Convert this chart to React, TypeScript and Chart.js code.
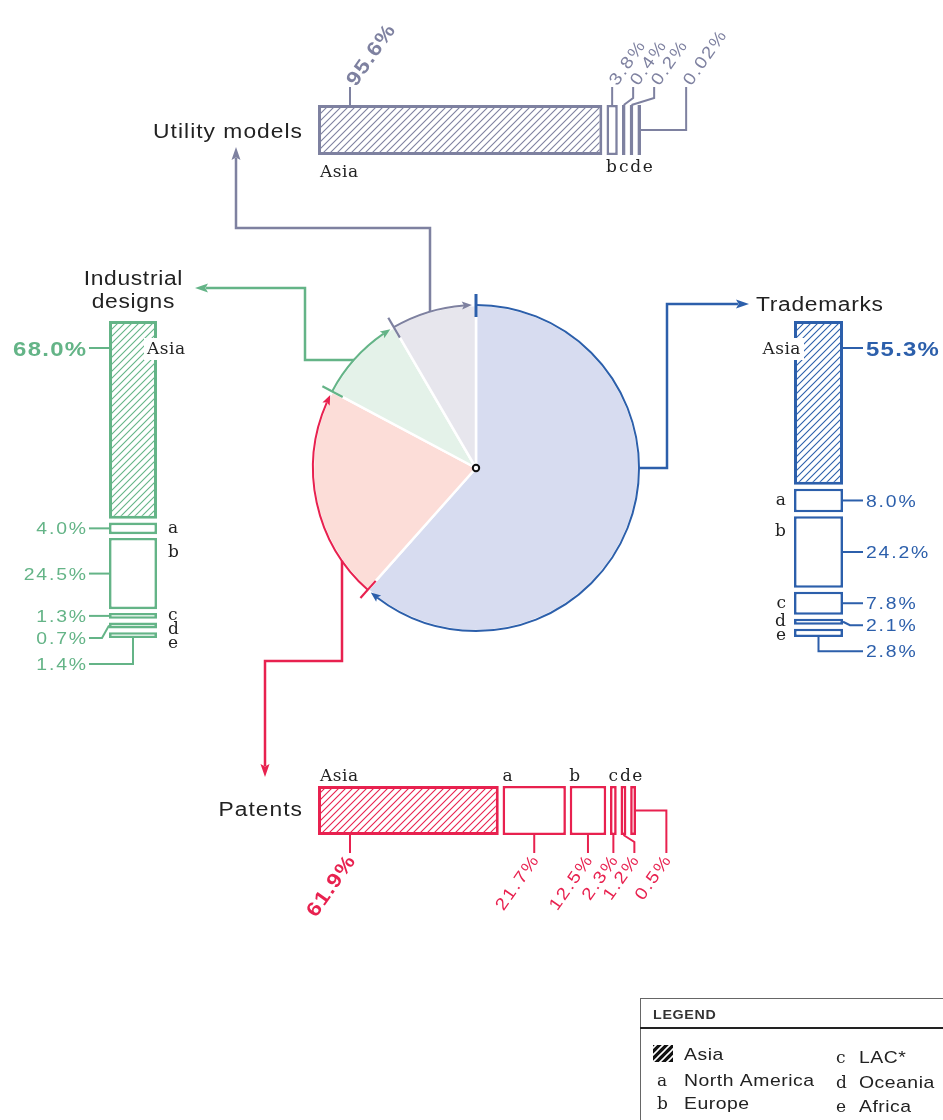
import React, { useEffect, useRef } from 'react';
import { Chart, registerables } from 'chart.js';

Chart.register(...registerables);

const W = 943;
const H = 1120;

// ---------- data ----------
const PIE_LABELS = ['Trademarks', 'Patents', 'Industrial designs', 'Utility models'];
const PIE_SHARES = [61.5, 21.2, 8.8, 8.4];
const REGION_CODES = ['Asia', 'a', 'b', 'c', 'd', 'e'];
const REGION_NAMES = ['Asia', 'North America', 'Europe', 'LAC*', 'Oceania', 'Africa'];
const UTILITY_SHARES: (number | null)[] = [95.6, null, 3.8, 0.4, 0.2, 0.02];
const DESIGN_SHARES: (number | null)[] = [68.0, 4.0, 24.5, 1.3, 0.7, 1.4];
const TRADEMARK_SHARES: (number | null)[] = [55.3, 8.0, 24.2, 7.8, 2.1, 2.8];
const PATENT_SHARES: (number | null)[] = [61.9, 21.7, 12.5, 2.3, 1.2, 0.5];

// ---------- style ----------
const BLUE = '#2c5fab';
const RED = '#e8214f';
const GREEN = '#64b487';
const GRAY = '#7e81a0';
const PIE_FILLS = ['#d7dcf0', '#fcddd8', '#e4f2e9', '#e7e6ed'];
const PIE_LINES = [BLUE, RED, GREEN, GRAY];
const SANS = '"Liberation Sans", Arial, sans-serif';
const SERIF = '"DejaVu Serif", serif';
const INK = '#222';
const ANGLE = (55 * Math.PI) / 180;
const SX = 1.14; // horizontal stretch for the wide grotesque look

const fmt = (v: number) => (v < 0.1 ? v.toFixed(2) : v.toFixed(1)) + '%';

// draw stretched, letter-spaced sans text
function sText(
  ctx: CanvasRenderingContext2D,
  txt: string,
  x: number,
  y: number,
  align: CanvasTextAlign,
  ls: number,
  sx = SX
) {
  ctx.save();
  (ctx as any).letterSpacing = ls + 'px';
  const comp = align === 'right' ? ls * sx : align === 'center' ? (ls * sx) / 2 : 0;
  ctx.translate(x + comp, y);
  ctx.scale(sx, 1);
  ctx.textAlign = align;
  ctx.fillText(txt, 0, 0);
  ctx.restore();
}

function hatch(color: string, bg = '#ffffff', lw = 1.1) {
  const c = document.createElement('canvas');
  c.width = 7;
  c.height = 7;
  const g = c.getContext('2d')!;
  g.fillStyle = bg;
  g.fillRect(0, 0, 7, 7);
  g.strokeStyle = color;
  g.lineWidth = lw;
  g.beginPath();
  g.moveTo(-1, 8);
  g.lineTo(8, -1);
  g.moveTo(-1, 1);
  g.lineTo(1, -1);
  g.moveTo(6, 8);
  g.lineTo(8, 6);
  g.stroke();
  return g.createPattern(c, 'repeat')!;
}

function arrowHead(ctx: CanvasRenderingContext2D, tx: number, ty: number, ux: number, uy: number, len: number, hw: number) {
  ctx.beginPath();
  ctx.moveTo(tx, ty);
  ctx.lineTo(tx - ux * len - uy * hw, ty - uy * len + ux * hw);
  ctx.lineTo(tx - ux * len * 0.8, ty - uy * len * 0.8);
  ctx.lineTo(tx - ux * len + uy * hw, ty - uy * len - ux * hw);
  ctx.closePath();
  ctx.fill();
}

function connector(ctx: CanvasRenderingContext2D, pts: number[][], color: string) {
  const n = pts.length;
  const [tx, ty] = pts[n - 1];
  const [px, py] = pts[n - 2];
  const d = Math.hypot(tx - px, ty - py);
  const ux = (tx - px) / d;
  const uy = (ty - py) / d;
  const aLen = 13;
  ctx.strokeStyle = color;
  ctx.fillStyle = color;
  ctx.lineWidth = 2.5;
  ctx.lineJoin = 'miter';
  ctx.beginPath();
  ctx.moveTo(pts[0][0], pts[0][1]);
  for (let i = 1; i < n - 1; i++) ctx.lineTo(pts[i][0], pts[i][1]);
  ctx.lineTo(tx - ux * aLen * 0.85, ty - uy * aLen * 0.85);
  ctx.stroke();
  arrowHead(ctx, tx, ty, ux, uy, aLen, 4.5);
}

// ---------- pie decorations ----------
const pieDecor = {
  id: 'pieDecor',
  afterDatasetsDraw(chart: any) {
    const ctx: CanvasRenderingContext2D = chart.ctx;
    const arcs = chart
      .getDatasetMeta(0)
      .data.map((a: any) => a.getProps(['x', 'y', 'startAngle', 'endAngle', 'outerRadius'], true));
    const cx = arcs[0].x;
    const cy = arcs[0].y;
    const r = arcs[0].outerRadius;
    ctx.save();
    // outer arcs with arrows
    arcs.forEach((a: any, i: number) => {
      const col = PIE_LINES[i];
      const tipA = a.endAngle - 0.025;
      const aLen = 10;
      const baseA = tipA - aLen / r;
      ctx.strokeStyle = col;
      ctx.fillStyle = col;
      ctx.lineWidth = 2;
      ctx.beginPath();
      ctx.arc(cx, cy, r, a.startAngle, baseA + 2 / r);
      ctx.stroke();
      const tx = cx + r * Math.cos(tipA);
      const ty = cy + r * Math.sin(tipA);
      const bx = cx + r * Math.cos(baseA);
      const by = cy + r * Math.sin(baseA);
      const d = Math.hypot(tx - bx, ty - by);
      arrowHead(ctx, tx, ty, (tx - bx) / d, (ty - by) / d, aLen, 4);
    });
    // ticks at slice starts
    arcs.forEach((a: any, i: number) => {
      const ca = Math.cos(a.startAngle);
      const sa = Math.sin(a.startAngle);
      ctx.strokeStyle = PIE_LINES[i];
      ctx.lineWidth = i === 0 ? 3 : 2.2;
      ctx.beginPath();
      ctx.moveTo(cx + (r - 12) * ca, cy + (r - 12) * sa);
      ctx.lineTo(cx + (r + 11) * ca, cy + (r + 11) * sa);
      ctx.stroke();
    });
    // center dot
    ctx.beginPath();
    ctx.arc(cx, cy, 3.2, 0, Math.PI * 2);
    ctx.fillStyle = '#fff';
    ctx.fill();
    ctx.lineWidth = 2;
    ctx.strokeStyle = '#111';
    ctx.stroke();

    // connectors
    connector(ctx, [[cx + r, cy], [667, cy], [667, 304], [749, 304]], BLUE);
    connector(ctx, [[430, cy - Math.sqrt(r * r - (430 - cx) ** 2)], [430, 228], [236, 228], [236, 147]], GRAY);
    connector(ctx, [[cx - Math.sqrt(r * r - (cy - 360) ** 2), 360], [305, 360], [305, 288], [195, 288]], GREEN);
    connector(ctx, [[342, cy + Math.sqrt(r * r - (342 - cx) ** 2)], [342, 661], [265, 661], [265, 777]], RED);

    // titles
    ctx.fillStyle = INK;
    ctx.font = `20px ${SANS}`;
    ctx.textBaseline = 'alphabetic';
    sText(ctx, PIE_LABELS[3], 302, 138, 'right', 0.9);
    sText(ctx, PIE_LABELS[1], 302, 816, 'right', 0.9);
    sText(ctx, PIE_LABELS[0], 756, 311, 'left', 0.6);
    const idWords = PIE_LABELS[2].split(' ');
    sText(ctx, idWords[0], 133, 285, 'center', 0.6);
    sText(ctx, idWords[1], 133, 308, 'center', 0.6);

    // legend
    ctx.textAlign = 'left';
    ctx.strokeStyle = '#666';
    ctx.lineWidth = 1;
    ctx.beginPath();
    ctx.moveTo(640, 998.5);
    ctx.lineTo(W, 998.5);
    ctx.moveTo(640.5, 998);
    ctx.lineTo(640.5, H);
    ctx.stroke();
    ctx.strokeStyle = '#222';
    ctx.lineWidth = 2;
    ctx.beginPath();
    ctx.moveTo(640, 1028);
    ctx.lineTo(W, 1028);
    ctx.stroke();
    ctx.fillStyle = '#333';
    ctx.font = `bold 12.5px ${SANS}`;
    sText(ctx, 'LEGEND', 653, 1019, 'left', 0.6);
    // hatched icon
    ctx.fillStyle = hatch('#ffffff', '#111111', 1.6);
    ctx.fillRect(653, 1045, 20, 17);
    const rowsY = [[1060, 1086, 1109], [1063, 1088, 1112]];
    REGION_NAMES.forEach((name, i) => {
      const col = i < 3 ? 0 : 1;
      const y = rowsY[col][i % 3];
      const lx = col === 0 ? 657 : 836;
      const nx = col === 0 ? 684 : 859;
      if (i > 0) {
        ctx.fillStyle = INK;
        ctx.font = `17px ${SERIF}`;
        (ctx as any).letterSpacing = '0px';
        ctx.textAlign = 'left';
        ctx.fillText(REGION_CODES[i], lx, y);
      }
      ctx.fillStyle = INK;
      ctx.font = `17px ${SANS}`;
      sText(ctx, name, nx, y, 'left', 0.45);
    });
    ctx.restore();
  },
};

// ---------- bar charts ----------
type Side = 'before' | 'after';
interface BarSpec {
  shares: (number | null)[];
  color: string;
  horizontal: boolean;
  area: [number, number, number, number];
  minShow: number;
  gap: number;
  labelSide: Side;
  letterSide: Side;
}

function segmentLabels(spec: BarSpec) {
  return {
    id: 'segmentLabels',
    afterDatasetsDraw(chart: any) {
      const ctx: CanvasRenderingContext2D = chart.ctx;
      const hz = spec.horizontal;
      const P = (a: number, b: number) => (hz ? [a, b] : [b, a]);
      const g = chart.data.datasets.map((ds: any, di: number) => {
        const p = chart.getDatasetMeta(di).data[0].getProps(['x', 'y', 'base', 'width', 'height'], true);
        const s = hz ? Math.min(p.base, p.x) : Math.min(p.base, p.y);
        const e = hz ? Math.max(p.base, p.x) : Math.max(p.base, p.y);
        const t0 = hz ? p.y - p.height / 2 : p.x - p.width / 2;
        const t1 = hz ? p.y + p.height / 2 : p.x + p.width / 2;
        return { s, e, c: (s + e) / 2, t0, t1, region: ds.region, share: ds.share };
      });
      const n = g.length;
      const spacing = hz ? 21 : 22;
      const lastGap = hz ? 32 : 26;
      const mainOff = hz ? 32 : 27;
      const pos: number[] = [];
      for (let i = 0; i < n; i++) {
        if (i === 0) pos.push(g[i].s + mainOff);
        else if (i === n - 1) pos.push(Math.max(pos[i - 1] + lastGap, g[i].e + 12));
        else pos.push(Math.max(g[i].c, pos[i - 1] + spacing));
      }
      const dir = spec.labelSide === 'before' ? -1 : 1;
      const edge = spec.labelSide === 'before' ? g[0].t0 : g[0].t1;
      const mid = (g[0].t0 + g[0].t1) / 2;
      const L = hz ? 18 : 20;
      ctx.save();
      ctx.textBaseline = 'alphabetic';
      for (let i = 0; i < n; i++) {
        const pts: number[][] = [];
        if (i === 0) pts.push(P(pos[0], edge), P(pos[0], edge + dir * L));
        else if (i === n - 1) pts.push(P(g[i].e, mid), P(pos[i], mid), P(pos[i], edge + dir * L));
        else if (Math.abs(pos[i] - g[i].c) < 0.5) pts.push(P(g[i].c, edge), P(g[i].c, edge + dir * L));
        else pts.push(P(g[i].c, edge), P(pos[i], edge + dir * 7), P(pos[i], edge + dir * L));
        ctx.strokeStyle = spec.color;
        ctx.lineWidth = 2;
        ctx.lineJoin = 'miter';
        ctx.beginPath();
        ctx.moveTo(pts[0][0], pts[0][1]);
        for (let k = 1; k < pts.length; k++) ctx.lineTo(pts[k][0], pts[k][1]);
        ctx.stroke();

        const bold = i === 0;
        const size = hz ? (bold ? 20 : 17) : bold ? 21 : 17;
        ctx.font = `${bold ? 'bold ' : ''}${size}px ${SANS}`;
        const ls = bold ? 1.1 : 1.6;
        ctx.fillStyle = spec.color;
        const txt = fmt(g[i].share);
        const capHalf = size * 0.36;
        if (hz) {
          ctx.save();
          ctx.translate(pos[i], edge + dir * (L + 4));
          ctx.rotate(-ANGLE);
          sText(ctx, txt, 0, capHalf, dir < 0 ? 'left' : 'right', ls);
          ctx.restore();
        } else {
          sText(ctx, txt, edge + dir * (L + 3), pos[i] + capHalf, dir < 0 ? 'right' : 'left', ls);
        }
      }

      // region letters
      const ls = spec.letterSide;
      ctx.font = `17px ${SERIF}`;
      (ctx as any).letterSpacing = '0.5px';
      if (hz) {
        ctx.fillStyle = INK;
        ctx.textAlign = 'left';
        ctx.fillText(REGION_CODES[0], g[0].s + 2, ls === 'before' ? g[0].t0 - 5 : g[0].t1 + 22);
      } else {
        const by = pos[0] + 6;
        const w = ctx.measureText(REGION_CODES[0]).width;
        const left = ls === 'after' ? g[0].t1 - 10 : g[0].t0 + 7 - w;
        ctx.fillStyle = '#fff';
        ctx.fillRect(left - 3, by - 16, w + 6, 22);
        ctx.fillStyle = INK;
        ctx.textAlign = 'left';
        ctx.fillText(REGION_CODES[0], left, by);
      }
      (ctx as any).letterSpacing = '0px';
      ctx.fillStyle = INK;
      let prev = -Infinity;
      for (let i = 1; i < n; i++) {
        const code = REGION_CODES[g[i].region];
        let lp = Math.min(g[i].c, g[i].s + (hz ? 5 : 15));
        lp = Math.max(lp, prev + (hz ? 12 : 14));
        prev = lp;
        if (hz) {
          ctx.textAlign = 'center';
          ctx.fillText(code, lp, ls === 'before' ? g[0].t0 - 5 : g[0].t1 + 17);
        } else {
          ctx.textAlign = ls === 'after' ? 'left' : 'right';
          ctx.fillText(code, ls === 'after' ? g[0].t1 + 11 : g[0].t0 - 8, lp + 4.5);
        }
      }
      ctx.restore();
    },
  };
}

function makeBar(canvas: HTMLCanvasElement, spec: BarSpec) {
  const segs: { region: number; share: number; from: number; to: number }[] = [];
  let cur = 0;
  spec.shares.forEach((v, i) => {
    if (v == null) return;
    if (segs.length) cur += spec.gap;
    const len = Math.max(v, spec.minShow);
    segs.push({ region: i, share: v, from: cur, to: cur + len });
    cur += len;
  });
  const total = cur;
  const pattern = hatch(spec.color);
  const datasets = segs.map((s) => ({
    label: REGION_NAMES[s.region],
    data: [[s.from, s.to]],
    region: s.region,
    share: s.share,
    backgroundColor: s.region === 0 ? pattern : '#ffffff',
    borderColor: spec.color,
    borderWidth: s.region === 0 ? 3 : 2.6,
    borderSkipped: false,
    grouped: false,
    categoryPercentage: 1,
    barPercentage: 1,
    inflateAmount: 0,
  }));
  const [x0, y0, x1, y1] = spec.area;
  const valueAxis = { type: 'linear', min: 0, max: total, display: false, reverse: !spec.horizontal };
  const catAxis = { type: 'category', display: false };
  return new Chart(canvas, {
    type: 'bar',
    data: { labels: [''], datasets: datasets as any },
    options: {
      indexAxis: spec.horizontal ? 'y' : 'x',
      responsive: false,
      animation: false,
      events: [],
      layout: { padding: { left: x0, top: y0, right: W - x1, bottom: H - y1 } },
      scales: (spec.horizontal ? { x: valueAxis, y: catAxis } : { x: catAxis, y: valueAxis }) as any,
      plugins: { legend: { display: false }, tooltip: { enabled: false } },
    } as any,
    plugins: [segmentLabels(spec)],
  });
}

const UTILITY_SPEC: BarSpec = {
  shares: UTILITY_SHARES, color: GRAY, horizontal: true, area: [318, 105, 641, 155],
  minShow: 1.2, gap: 1.4, labelSide: 'before', letterSide: 'after',
};
const DESIGN_SPEC: BarSpec = {
  shares: DESIGN_SHARES, color: GREEN, horizontal: false, area: [109, 321, 157, 638],
  minShow: 2.0, gap: 1.3, labelSide: 'before', letterSide: 'after',
};
const TRADEMARK_SPEC: BarSpec = {
  shares: TRADEMARK_SHARES, color: BLUE, horizontal: false, area: [794, 321, 843, 637],
  minShow: 2.0, gap: 1.3, labelSide: 'after', letterSide: 'before',
};
const PATENT_SPEC: BarSpec = {
  shares: PATENT_SHARES, color: RED, horizontal: true, area: [318, 786, 636, 835],
  minShow: 2.0, gap: 1.3, labelSide: 'after', letterSide: 'before',
};

export default function App() {
  const pieRef = useRef<HTMLCanvasElement>(null);
  const umRef = useRef<HTMLCanvasElement>(null);
  const idRef = useRef<HTMLCanvasElement>(null);
  const tmRef = useRef<HTMLCanvasElement>(null);
  const ptRef = useRef<HTMLCanvasElement>(null);

  useEffect(() => {
    const charts: Chart[] = [];
    charts.push(
      new Chart(pieRef.current!, {
        type: 'pie',
        data: {
          labels: PIE_LABELS,
          datasets: [
            {
              data: PIE_SHARES,
              backgroundColor: PIE_FILLS,
              borderColor: '#ffffff',
              borderWidth: 2.5,
              radius: 163,
              hoverOffset: 0,
            } as any,
          ],
        },
        options: {
          responsive: false,
          animation: false,
          events: [],
          layout: { padding: { left: 313, right: 304, top: 305, bottom: 489 } },
          plugins: { legend: { display: false }, tooltip: { enabled: false } },
        },
        plugins: [pieDecor as any],
      })
    );
    charts.push(makeBar(umRef.current!, UTILITY_SPEC));
    charts.push(makeBar(idRef.current!, DESIGN_SPEC));
    charts.push(makeBar(tmRef.current!, TRADEMARK_SPEC));
    charts.push(makeBar(ptRef.current!, PATENT_SPEC));
    return () => charts.forEach((c) => c.destroy());
  }, []);

  const cs: React.CSSProperties = { position: 'absolute', left: 0, top: 0, width: W, height: H };
  return (
    <div style={{ position: 'absolute', left: 0, top: 0, width: W, height: H, background: '#fff', overflow: 'hidden' }}>
      <canvas ref={pieRef} width={W} height={H} style={cs} />
      <canvas ref={umRef} width={W} height={H} style={cs} />
      <canvas ref={idRef} width={W} height={H} style={cs} />
      <canvas ref={tmRef} width={W} height={H} style={cs} />
      <canvas ref={ptRef} width={W} height={H} style={cs} />
    </div>
  );
}
